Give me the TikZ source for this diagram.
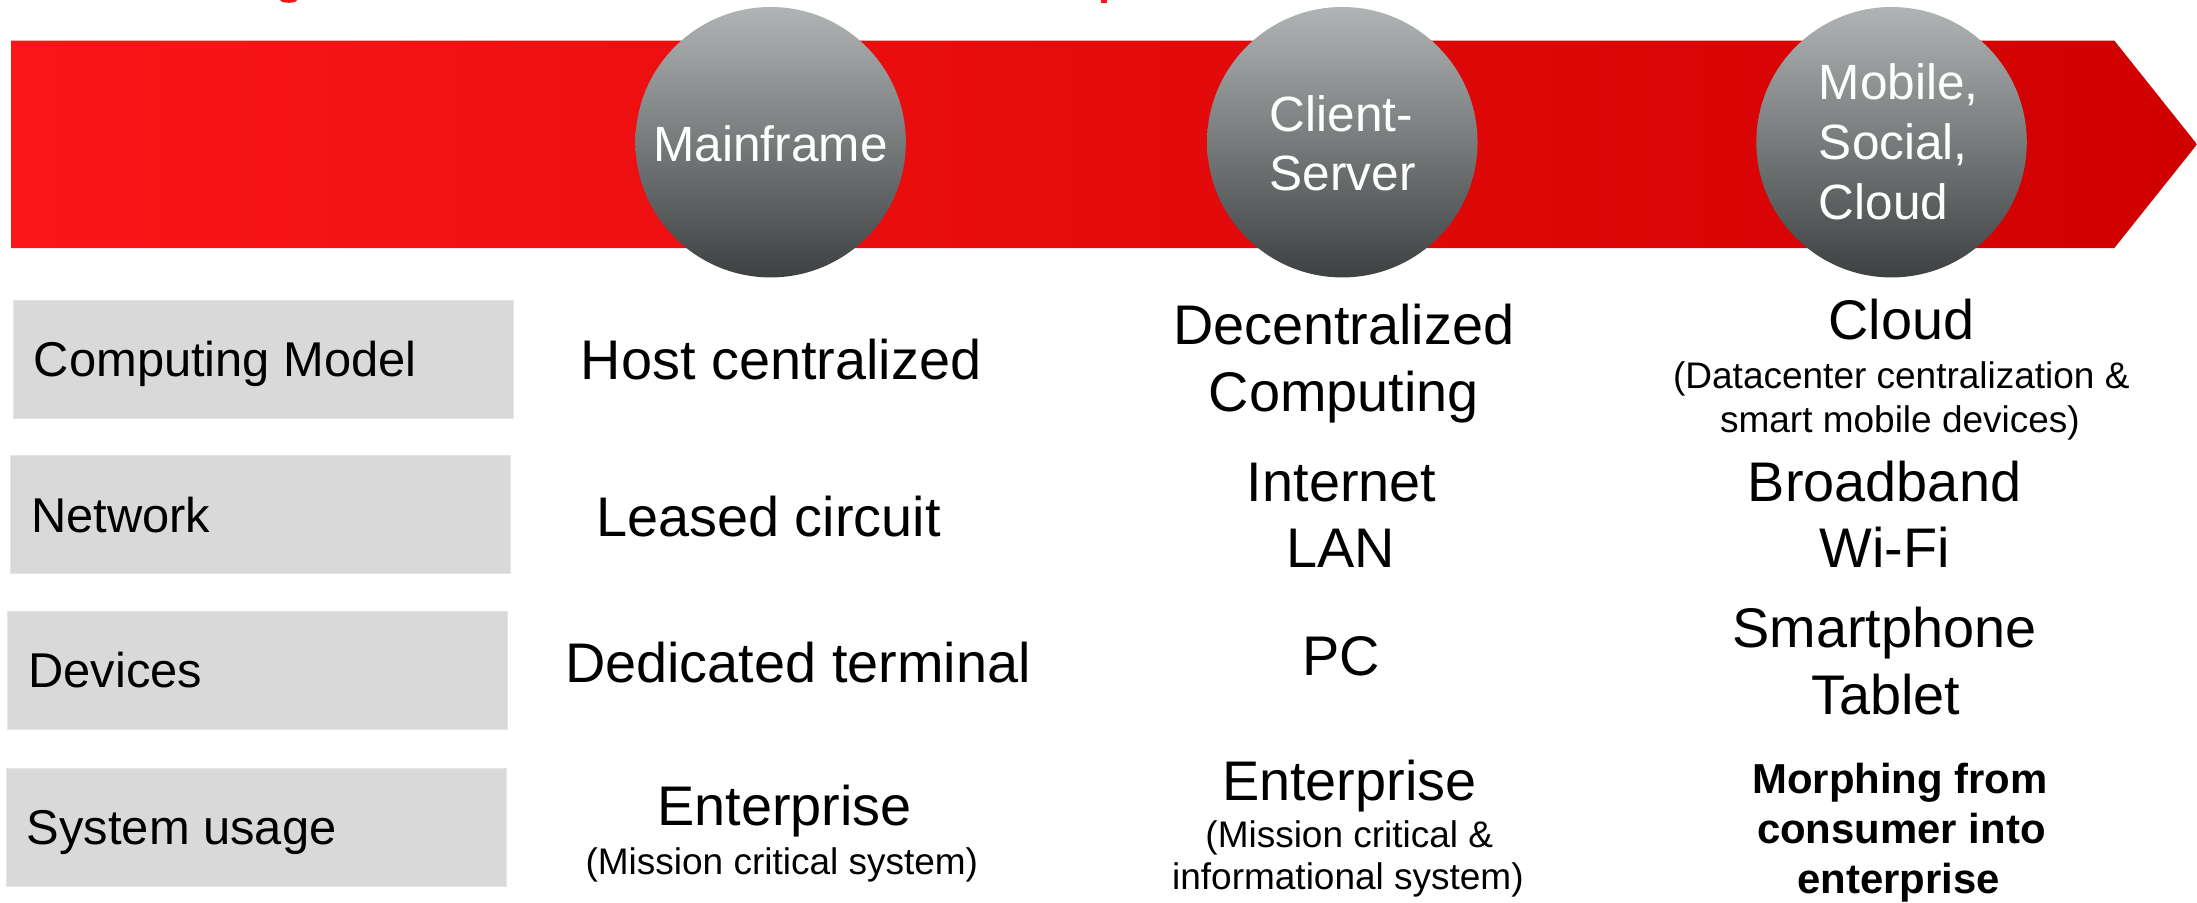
\documentclass[tikz,border=0pt]{standalone}
\usepackage{fontspec}
\setmainfont{Liberation Sans}
\definecolor{redL}{RGB}{250,22,24}
\definecolor{redR}{RGB}{208,0,0}
\definecolor{ballT}{RGB}{176,180,180}
\definecolor{ballB}{RGB}{62,65,66}
\definecolor{boxgray}{RGB}{217,217,217}
\definecolor{boxline}{RGB}{228,228,228}
\begin{document}
\begin{tikzpicture}[x=1bp,y=-1bp,
  ball/.style={circle, minimum size=193bp, inner sep=0pt, top color=ballT, bottom color=ballB, draw=none},
  balltxt/.style={text=white, inner sep=0pt, font=\fontsize{35.5}{42}\selectfont},
  rowbox/.style={fill=boxgray, draw=boxline, line width=0.6bp, anchor=north west, minimum width=357bp, minimum height=84bp, inner sep=0pt},
  lbl/.style={anchor=base west, inner sep=0pt, font=\fontsize{35}{42}\selectfont},
  big/.style={anchor=base, inner sep=0pt, font=\fontsize{40}{48}\selectfont},
  small/.style={anchor=base, inner sep=0pt, font=\fontsize{26.5}{30}\selectfont},
  boldtxt/.style={anchor=base, inner sep=0pt, font=\bfseries\fontsize{30}{36}\selectfont}]
\useasboundingbox (0,0) rectangle (1568,644);
% cut-off title fragments
\fill[redL] (206,0) ellipse (6 and 2);
\fill[redL] (786,0) rectangle (790,2.2);
% red arrow band
\shade[left color=redL, right color=redR] (8,29) -- (1509,29) -- (1568,103) -- (1509,177) -- (8,177) -- cycle;
% era balls
\node[ball] (mf) at (550,101.5) {};
\node[ball] (cs) at (958,101.5) {};
\node[ball] (mc) at (1350,101.5) {};
\node[balltxt, anchor=base] (mft) at (550,115.6) {Mainframe};
\node[balltxt, anchor=base west] (cst1) at (906,94) {Client-};
\node[balltxt, anchor=base west] (cst2) at (906,136) {Server};
\node[balltxt, anchor=base west] (mct1) at (1298,71) {Mobile,};
\node[balltxt, anchor=base west] (mct2) at (1298,114) {Social,};
\node[balltxt, anchor=base west] (mct3) at (1298,157) {Cloud};
% row label boxes
\node[rowbox] (b1) at (9,214) {};
\node[rowbox] (b2) at (7,325) {};
\node[rowbox] (b3) at (5,436) {};
\node[rowbox] (b4) at (4,548) {};
\node[lbl] (l1) at (24,269) {Computing Model};
\node[lbl] (l2) at (22,380) {Network};
\node[lbl] (l3) at (20,491) {Devices};
\node[lbl] (l4) at (19,603) {System usage};
% column: Mainframe
\node[big] (h1) at (557.5,271) {Host centralized};
\node[big] (h2) at (548.5,383) {Leased circuit};
\node[big] (h3) at (569.5,487) {Dedicated terminal};
\node[big] (h4) at (560,589) {Enterprise};
\node[small] (h4s) at (558,624) {(Mission critical system)};
% column: Client-Server
\node[big] (c1a) at (959,246) {Decentralized};
\node[big] (c1b) at (959,294) {Computing};
\node[big] (c2a) at (957.5,358) {Internet};
\node[big] (c2b) at (957,405) {LAN};
\node[big] (c3) at (957,482) {PC};
\node[big] (c4a) at (963,571) {Enterprise};
\node[small] (c4b) at (963,605) {(Mission critical \&};
\node[small] (c4c) at (962,635) {informational system)};
% column: Mobile, Social, Cloud
\node[big] (d1a) at (1357,242) {Cloud};
\node[small] (d1b) at (1357,277) {(Datacenter centralization \&};
\node[small] (d1c) at (1356,309) {smart mobile devices)};
\node[big] (d2a) at (1345,358) {Broadband};
\node[big] (d2b) at (1345,405) {Wi-Fi};
\node[big] (d3a) at (1345,462) {Smartphone};
\node[big] (d3b) at (1346,510) {Tablet};
\node[boldtxt] (d4a) at (1356,566) {Morphing from};
\node[boldtxt] (d4b) at (1357,602) {consumer into};
\node[boldtxt] (d4c) at (1355,638) {enterprise};
\end{tikzpicture}
\end{document}
